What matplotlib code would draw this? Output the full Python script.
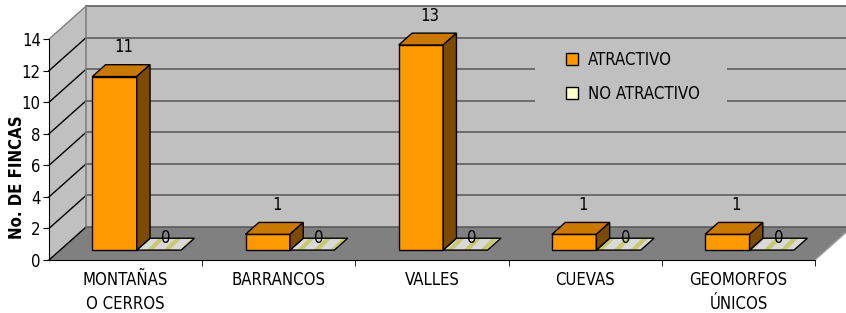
import numpy as np
import matplotlib
matplotlib.use("Agg")
import matplotlib.pyplot as plt
from matplotlib.patches import Polygon, Rectangle

# data
categories = ["MONTAÑAS\nO CERROS", "BARRANCOS", "VALLES", "CUEVAS", "GEOMORFOS\nÚNICOS"]
atractivo = [11, 1, 13, 1, 1]
no_atractivo = [0, 0, 0, 0, 0]
series_names = ["ATRACTIVO", "NO ATRACTIVO"]
y_ticks = [0, 2, 4, 6, 8, 10, 12, 14]

plt.rcParams['font.family'] = ['DejaVu Sans']
plt.rcParams['font.stretch'] = 'condensed'
plt.rcParams['hatch.linewidth'] = 3.0

# fake 3d: depth offset (data units) and bar depth range
DX, DY = 0.2415, 2.09
F0, F1 = 0.30, 0.66
W = 0.29
YMAX = 14

ORANGE, ORANGE_TOP, ORANGE_SIDE = "#FF9900", "#C97800", "#7C4A00"
CREAM = "#FFFFCC"
WALL, FLOOR = "#C0C0C0", "#808080"
FS = 12

fig = plt.figure(figsize=(8.46, 3.13), dpi=100)
ax = fig.add_axes([0, 0, 1, 1])
ax.set_xlim(-0.82, 4.702)
ax.set_ylim(-3.36, 16.48)

x = np.arange(len(categories))
x0 = -0.5
x1 = len(categories) - 0.5

# walls and floor
ax.add_patch(Polygon([(x0 + DX, DY), (x1 + DX, DY), (x1 + DX, YMAX + DY), (x0 + DX, YMAX + DY)],
                     facecolor=WALL, edgecolor="none", zorder=0))
ax.add_patch(Polygon([(x0, 0), (x0 + DX, DY), (x0 + DX, YMAX + DY), (x0, YMAX)],
                     facecolor=WALL, edgecolor="none", zorder=0))
ax.add_patch(Polygon([(x0, 0), (x1, 0), (x1 + DX, DY), (x0 + DX, DY)],
                     facecolor=FLOOR, edgecolor="none", zorder=0))

# gridlines: back wall and left wall
for v in y_ticks:
    ax.plot([x0 + DX, x1 + DX], [v + DY, v + DY], color="#555555", lw=1.1, zorder=1)
    ax.plot([x0, x0 + DX], [v, v + DY], color="#808080" if v == YMAX else "black", lw=1, zorder=1)
ax.plot([x0 + DX, x0 + DX], [DY, YMAX + DY], color="#808080", lw=1.2, zorder=1)
ax.plot([x1, x1 + DX], [0, DY], color="#A0A0A0", lw=1, zorder=1)

# legend background (covers the back wall grid)
ax.add_patch(Rectangle((535 / 846, 1 - 108 / 313), 192 / 846, 68 / 313,
                       transform=ax.transAxes, facecolor=WALL, edgecolor="none", zorder=2))

# bars
left = x - W + F0 * DX
bars = ax.bar(left, atractivo, width=W, bottom=F0 * DY, align="edge",
              color=ORANGE, edgecolor="black", linewidth=1, zorder=4, label=series_names[0])
for xi, v in zip(x, atractivo):
    a, b = xi - W, xi
    top = [(a + F0 * DX, v + F0 * DY), (b + F0 * DX, v + F0 * DY),
           (b + F1 * DX, v + F1 * DY), (a + F1 * DX, v + F1 * DY)]
    side = [(b + F0 * DX, F0 * DY), (b + F0 * DX, v + F0 * DY),
            (b + F1 * DX, v + F1 * DY), (b + F1 * DX, F1 * DY)]
    ax.add_patch(Polygon(top, facecolor=ORANGE_TOP, edgecolor="black", lw=1, zorder=4))
    ax.add_patch(Polygon(side, facecolor=ORANGE_SIDE, edgecolor="black", lw=1, zorder=4))
    ax.text((a + b) / 2 + F0 * DX + 0.06, v + F1 * DY + 1.1, str(v), ha="center", va="center",
            fontsize=FS, zorder=5)

for xi, v in zip(x, no_atractivo):
    a, b = xi, xi + W
    flat = [(a + F0 * DX, v + F0 * DY), (b + F0 * DX, v + F0 * DY),
            (b + F1 * DX, v + F1 * DY), (a + F1 * DX, v + F1 * DY)]
    ax.add_patch(Polygon(flat, facecolor="#D9D9D9", edgecolor="#C8C86E", lw=0,
                         hatch="//", zorder=3))
    ax.add_patch(Polygon(flat, facecolor="none", edgecolor="black", lw=1, zorder=3))
    ax.text((a + b) / 2 + F0 * DX + 0.045, v + F1 * DY, str(v), ha="center", va="center",
            fontsize=FS, zorder=5)

# axes lines and ticks
for s in ["top", "right"]:
    ax.spines[s].set_visible(False)
ax.spines["left"].set_position(("data", x0))
ax.spines["left"].set_bounds(0, YMAX)
ax.spines["bottom"].set_position(("data", 0))
ax.spines["bottom"].set_bounds(x0, x1)
ax.spines["left"].set_zorder(6)
ax.spines["bottom"].set_zorder(6)
ax.set_yticks(y_ticks)
ax.set_yticklabels([str(t) for t in y_ticks], fontsize=FS)
ax.tick_params(axis="y", direction="out", length=4, pad=2)
ax.set_xticks(x)
ax.set_xticklabels(categories, fontsize=FS, linespacing=1.4)
ax.set_xticks(np.arange(0.5, len(categories)), minor=True)
ax.tick_params(axis="x", which="major", length=0, pad=8)
ax.tick_params(axis="x", which="minor", length=4)
ax.set_ylabel("No. DE FINCAS", fontsize=FS, fontweight="bold")
ax.yaxis.set_label_coords(0.031, 0.434)

# legend
cream_patch = Rectangle((0, 0), 1, 1, facecolor=CREAM, edgecolor="black", lw=1)
leg = ax.legend([bars, cream_patch], series_names, loc="center left",
                bbox_to_anchor=(551 / 846, 1 - 77 / 313), frameon=False,
                fontsize=FS, handlelength=0.7, handleheight=0.7,
                handletextpad=0.6, labelspacing=0.95)
leg.set_zorder(7)

fig.savefig("out.png", dpi=100)
